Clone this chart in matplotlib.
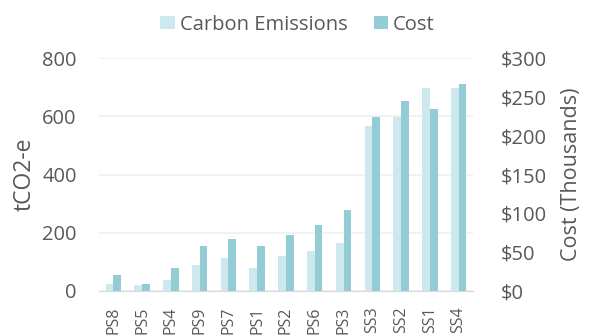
import numpy as np
import matplotlib.pyplot as plt
from matplotlib.ticker import FuncFormatter

# Sites ordered by carbon emissions
sites = ['PS8', 'PS5', 'PS4', 'PS9', 'PS7', 'PS1', 'PS2', 'PS6', 'PS3',
         'SS3', 'SS2', 'SS1', 'SS4']
carbon = [24, 20, 37, 88, 115, 79, 120, 137, 166, 567, 598, 696, 697]   # tCO2-e
cost = [20, 8.6, 30, 58, 66.5, 58, 72, 85, 104, 224, 244.5, 234, 267]     # $ thousands

light = '#cde8ee'
dark = '#93ccd5'
grey = '#595959'

plt.rcParams['font.family'] = ['Open Sans', 'DejaVu Sans']

fig, ax = plt.subplots(figsize=(5.89, 3.36), dpi=100)
fig.subplots_adjust(left=0.168, right=0.803, top=0.827, bottom=0.134)
ax2 = ax.twinx()

x = np.arange(len(sites))
w = 0.27
ax.bar(x - w / 2, carbon, width=w, color=light, label='Carbon Emissions', zorder=3)
ax2.bar(x + w / 2, cost, width=w, color=dark, label='Cost', zorder=3)

ax.set_ylim(0, 800)
ax.set_yticks(range(0, 801, 200))
ax2.set_ylim(0, 300)
ax2.set_yticks(range(0, 301, 50))
ax2.yaxis.set_major_formatter(FuncFormatter(lambda v, p: f'${v:.0f}'))
ax.set_xlim(-0.5, len(sites) - 0.5)
ax.set_xticks(x)
ax.set_xticklabels(sites, rotation=90)

ax.grid(axis='y', color='#efefef', linewidth=1.2, zorder=0)
ax.set_axisbelow(True)
for a in (ax, ax2):
    for s in a.spines.values():
        s.set_visible(False)
    a.tick_params(length=0, colors=grey, labelsize=14.5)
ax.spines['bottom'].set_visible(True)
ax.spines['bottom'].set_color('#d9d9d9')
ax.tick_params(axis='x', labelsize=11.5, pad=11)
ax.tick_params(axis='y', pad=16)
ax2.tick_params(axis='y', pad=20)

ax.set_ylabel('tCO2-e', color=grey, fontsize=16.5, labelpad=4)
ax2.set_ylabel('Cost (Thousands)', color=grey, fontsize=15.5, labelpad=10)

h1, l1 = ax.get_legend_handles_labels()
h2, l2 = ax2.get_legend_handles_labels()
fig.legend(h1 + h2, l1 + l2, loc='upper center', bbox_to_anchor=(0.505, 1.01),
           ncol=2, frameon=False, fontsize=14.5, labelcolor=grey,
           handlelength=0.7, handleheight=0.6, handletextpad=0.25, columnspacing=1.3)

plt.savefig('out.png', dpi=100)
